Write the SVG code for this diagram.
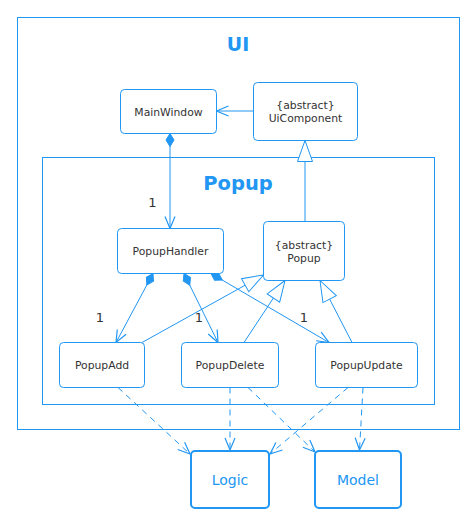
<svg xmlns="http://www.w3.org/2000/svg" width="469" height="519" viewBox="0 0 469 519">
<style>
.frame{fill:none;stroke:#2196F3;stroke-width:1}
.node{fill:#fff;stroke:#2196F3;stroke-width:1}
.comp{fill:#fff;stroke:#2196F3;stroke-width:2}
.t{font-family:"DejaVu Sans",sans-serif;font-size:10.8px;fill:#333;text-anchor:middle}
.ct{font-family:"DejaVu Sans",sans-serif;font-size:14px;fill:#2196F3;text-anchor:middle}
.title{font-family:"DejaVu Sans",sans-serif;font-weight:bold;fill:#2196F3;text-anchor:middle}
.m{font-family:"DejaVu Sans",sans-serif;font-size:13px;fill:#333;text-anchor:middle}
.ln{fill:none;stroke:#2196F3;stroke-width:1}
.dash{fill:none;stroke:#2196F3;stroke-width:1;stroke-dasharray:6,5}
</style>
<defs>
<marker id="arrow" markerUnits="userSpaceOnUse" viewBox="-14 -7 16 14" markerWidth="16" markerHeight="14" refX="0" refY="0" orient="auto">
<path d="M-12,-5 L0,0 L-12,5" fill="none" stroke="#2196F3" stroke-width="1.2"/>
</marker>
<marker id="diamond" markerUnits="userSpaceOnUse" viewBox="-1 -6 16 12" markerWidth="16" markerHeight="12" refX="0" refY="0" orient="auto">
<path d="M0,0 L6.5,-4 L13,0 L6.5,4 Z" fill="#2196F3" stroke="#2196F3" stroke-width="1"/>
</marker>
<marker id="tri" markerUnits="userSpaceOnUse" viewBox="-23 -10 25 20" markerWidth="25" markerHeight="20" refX="0" refY="0" orient="auto">
<path d="M0,0 L-21,-7.5 L-21,7.5 Z" fill="#fff" stroke="#2196F3" stroke-width="1"/>
</marker>
</defs>

<g id="ui-frame">
<rect class="frame" x="17.5" y="17.5" width="442" height="412"/>
<text class="title" x="238" y="50.5" font-size="19">UI</text>
</g>
<g id="popup-frame">
<rect class="frame" x="42.5" y="157.5" width="392" height="247"/>
<text class="title" x="238" y="190" font-size="19.5">Popup</text>
</g>

<g id="connectors">
<path class="ln" d="M253.5,111 L216.5,111" marker-end="url(#arrow)"/>
<path class="ln" d="M170,133.5 L170,228.5" marker-start="url(#diamond)" marker-end="url(#arrow)"/>
<path class="ln" d="M305,221.5 L305,140.5" marker-end="url(#tri)"/>
<path class="ln" d="M153,273.5 L116,342.5" marker-start="url(#diamond)" marker-end="url(#arrow)"/>
<path class="ln" d="M184,273.5 L218,342.5" marker-start="url(#diamond)" marker-end="url(#arrow)"/>
<path class="ln" d="M211,273.5 L329,342.5" marker-start="url(#diamond)" marker-end="url(#arrow)"/>
<path class="ln" d="M142,342.5 L263.5,275" marker-end="url(#tri)"/>
<path class="ln" d="M244,342.5 L285,280.5" marker-end="url(#tri)"/>
<path class="ln" d="M352,342.5 L320,280.5" marker-end="url(#tri)"/>
<path class="dash" d="M118,387.5 L190,454" marker-end="url(#arrow)"/>
<path class="dash" d="M230,387.5 L230,450" marker-end="url(#arrow)"/>
<path class="dash" d="M248,387.5 L315,452" marker-end="url(#arrow)"/>
<path class="dash" d="M348,387.5 L270,454" marker-end="url(#arrow)"/>
<path class="dash" d="M363,387.5 L359.5,450" marker-end="url(#arrow)"/>
<text class="m" x="152.5" y="206.5">1</text>
<text class="m" x="100" y="321.5">1</text>
<text class="m" x="199" y="321.5">1</text>
<text class="m" x="304" y="321.5">1</text>
</g>

<g id="MainWindow">
<rect class="node" x="120.5" y="89.5" width="96" height="44" rx="4"/>
<text class="t" x="168.5" y="115.5">MainWindow</text>
</g>
<g id="UiComponent">
<rect class="node" x="253.5" y="82.5" width="104" height="58" rx="4"/>
<text class="t" x="305.5" y="108.5">{abstract}</text>
<text class="t" x="305.5" y="122">UiComponent</text>
</g>
<g id="PopupHandler">
<rect class="node" x="117.5" y="228.5" width="106" height="45" rx="4"/>
<text class="t" x="170.5" y="255">PopupHandler</text>
</g>
<g id="Popup">
<rect class="node" x="263.5" y="221.5" width="81" height="59" rx="4"/>
<text class="t" x="304" y="248.5">{abstract}</text>
<text class="t" x="304" y="262">Popup</text>
</g>
<g id="PopupAdd">
<rect class="node" x="59.5" y="342.5" width="85" height="45" rx="4"/>
<text class="t" x="102" y="369">PopupAdd</text>
</g>
<g id="PopupDelete">
<rect class="node" x="181.5" y="342.5" width="97" height="45" rx="4"/>
<text class="t" x="230" y="369">PopupDelete</text>
</g>
<g id="PopupUpdate">
<rect class="node" x="315.5" y="342.5" width="102" height="45" rx="4"/>
<text class="t" x="366.5" y="369">PopupUpdate</text>
</g>
<g id="Logic">
<rect class="comp" x="191" y="451" width="78" height="57" rx="4"/>
<text class="ct" x="230" y="485">Logic</text>
</g>
<g id="Model">
<rect class="comp" x="315" y="451" width="86" height="57" rx="4"/>
<text class="ct" x="358" y="485">Model</text>
</g>
</svg>
